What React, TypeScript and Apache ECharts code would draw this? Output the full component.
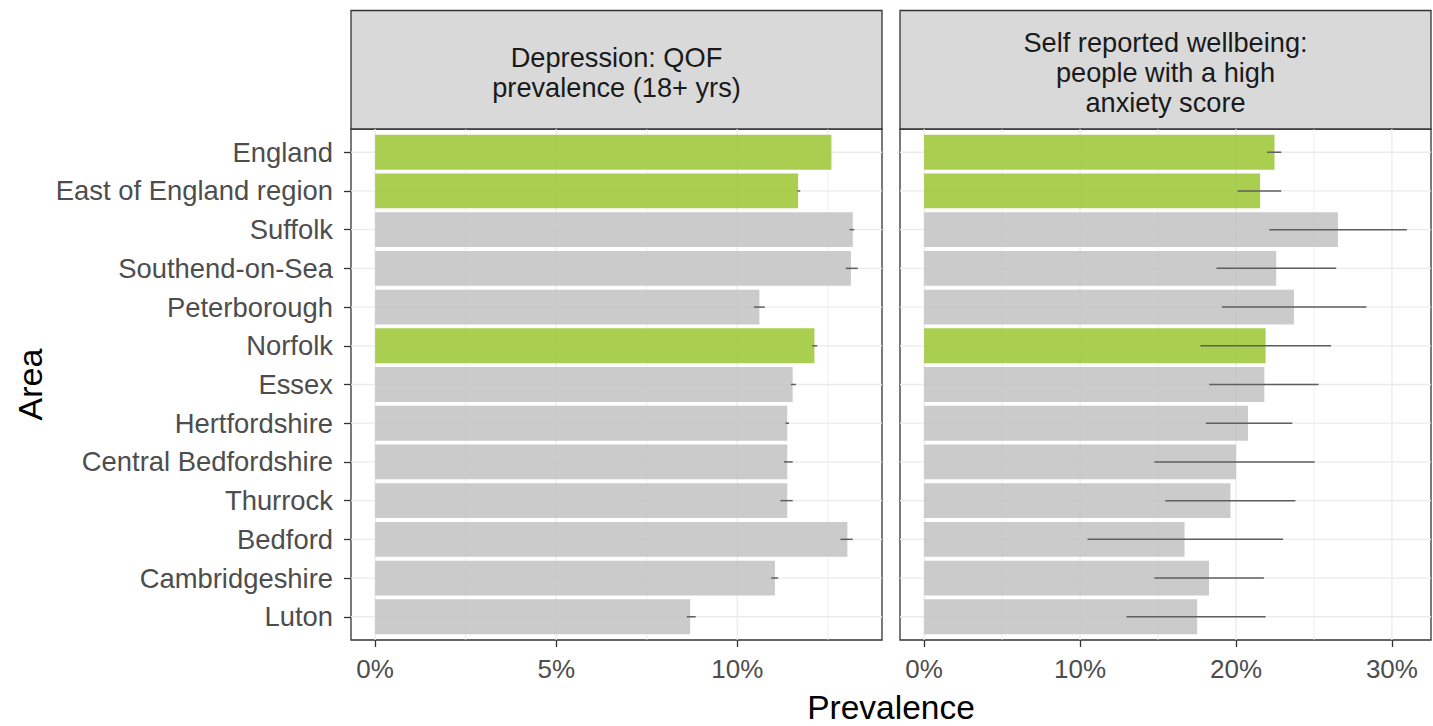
import { useEffect, useRef } from 'react';
import * as echarts from 'echarts';

// Areas, top to bottom
const areas = [
  'England',
  'East of England region',
  'Suffolk',
  'Southend-on-Sea',
  'Peterborough',
  'Norfolk',
  'Essex',
  'Hertfordshire',
  'Central Bedfordshire',
  'Thurrock',
  'Bedford',
  'Cambridgeshire',
  'Luton',
];
const highlighted = ['England', 'East of England region', 'Norfolk'];

// Depression: QOF prevalence (18+ yrs), %
const depressionValue = [12.6, 11.68, 13.19, 13.14, 10.61, 12.13, 11.53, 11.38, 11.38, 11.38, 13.04, 11.04, 8.7];
const depressionLower = [12.6, 11.66, 13.1, 13.0, 10.46, 12.07, 11.48, 11.33, 11.29, 11.19, 12.85, 10.94, 8.61];
const depressionUpper = [12.6, 11.74, 13.23, 13.33, 10.76, 12.21, 11.62, 11.43, 11.53, 11.53, 13.19, 11.13, 8.85];

// Self reported wellbeing: people with a high anxiety score, %
const anxietyValue = [22.47, 21.55, 26.54, 22.58, 23.72, 21.9, 21.82, 20.77, 20.0, 19.65, 16.7, 18.27, 17.51];
const anxietyLower = [22.0, 20.1, 22.14, 18.75, 19.1, 17.72, 18.29, 18.07, 14.77, 15.47, 10.48, 14.77, 12.98];
const anxietyUpper = [22.9, 22.9, 30.96, 26.43, 28.36, 26.1, 25.3, 23.61, 25.05, 23.81, 23.02, 21.79, 21.9];

// Tick values
const depressionTicks = [0, 5, 10];
const depressionMinorTicks = [2.5, 7.5, 12.5];
const anxietyTicks = [0, 10, 20, 30];
const anxietyMinorTicks = [5, 15, 25];

const panelTitles = ['Depression: QOF\nprevalence (18+ yrs)', 'Self reported wellbeing:\npeople with a high\nanxiety score'];

const FONT = "'Liberation Sans', Arial, Helvetica, sans-serif";
const GREEN = '#9AC631';
const GREY = '#C2C2C2';
const GRID_COLOR = '#EBEBEB';
const BORDER = '#333333';

const PANEL_TOP = 129;
const PANEL_HEIGHT = 511;
const PANEL_WIDTH = 531;
const PANEL_LEFT = [351, 900];
const STRIP_TOP = 10.5;

export default function App() {
  const ref = useRef<HTMLDivElement>(null);

  useEffect(() => {
    if (!ref.current) return;
    const chart = echarts.init(ref.current, undefined, { renderer: 'svg' });

    const panels = [
      { value: depressionValue, lower: depressionLower, upper: depressionUpper, ticks: depressionTicks, minor: depressionMinorTicks },
      { value: anxietyValue, lower: anxietyLower, upper: anxietyUpper, ticks: anxietyTicks, minor: anxietyMinorTicks },
    ];

    const grids = panels.map((_, k) => ({
      left: PANEL_LEFT[k],
      top: PANEL_TOP,
      width: PANEL_WIDTH,
      height: PANEL_HEIGHT,
      show: true,
      backgroundColor: '#ffffff',
      borderColor: BORDER,
      borderWidth: 1.3,
      containLabel: false,
    }));

    const xAxes = panels.map((p, k) => {
      const top = Math.max(...p.upper, ...p.value);
      return {
        type: 'value',
        gridIndex: k,
        position: 'bottom',
        min: -0.05 * top,
        max: 1.05 * top,
        axisLine: { show: false, onZero: false },
        splitLine: { show: false },
        axisTick: { show: true, customValues: p.ticks, length: 7, lineStyle: { color: BORDER, width: 1.3 } },
        axisLabel: {
          customValues: p.ticks,
          formatter: (v: number) => `${v}%`,
          fontSize: 26,
          fontFamily: FONT,
          color: '#4D4D4D',
          margin: 16,
        },
      };
    });

    const rowIdx = areas.map((_, i) => i);
    const yAxes = panels.map((_, k) => ({
      type: 'value',
      gridIndex: k,
      position: 'left',
      min: -0.6,
      max: areas.length - 1 + 0.6,
      inverse: true,
      axisLine: { show: false, onZero: false },
      splitLine: { show: false },
      axisTick: { show: k === 0, customValues: rowIdx, length: 7, lineStyle: { color: BORDER, width: 1.3 } },
      axisLabel: {
        show: k === 0,
        customValues: rowIdx,
        formatter: (v: number) => areas[Math.round(v)] ?? '',
        fontSize: 27.4,
        fontFamily: FONT,
        color: '#4D4D4D',
        margin: 18,
      },
    }));

    const series: any[] = [];
    panels.forEach((p, k) => {
      // vertical grid lines (minor then major)
      series.push({
        type: 'custom',
        xAxisIndex: k,
        yAxisIndex: k,
        silent: true,
        z: 1,
        data: [...p.minor.map((v) => [v, 0, 0]), ...p.ticks.map((v) => [v, 0, 1])],
        renderItem: (params: any, api: any) => {
          const cs = params.coordSys;
          const x = api.coord([api.value(0), 0])[0];
          const major = api.value(2) === 1;
          return {
            type: 'line',
            shape: { x1: x, y1: cs.y, x2: x, y2: cs.y + cs.height },
            style: { stroke: GRID_COLOR, lineWidth: major ? 1.3 : 0.8 },
          };
        },
      });
      // horizontal grid lines at each area
      series.push({
        type: 'custom',
        xAxisIndex: k,
        yAxisIndex: k,
        silent: true,
        z: 1,
        data: rowIdx.map((i) => [0, i]),
        renderItem: (params: any, api: any) => {
          const cs = params.coordSys;
          const y = api.coord([0, api.value(1)])[1];
          return {
            type: 'line',
            shape: { x1: cs.x, y1: y, x2: cs.x + cs.width, y2: y },
            style: { stroke: GRID_COLOR, lineWidth: 1.3 },
          };
        },
      });
      // bars
      series.push({
        type: 'custom',
        xAxisIndex: k,
        yAxisIndex: k,
        z: 2,
        data: areas.map((a, i) => [p.value[i], i, highlighted.includes(a) ? 1 : 0]),
        encode: { x: 0, y: 1 },
        renderItem: (_params: any, api: any) => {
          const v = api.value(0);
          const i = api.value(1);
          const p0 = api.coord([0, i]);
          const p1 = api.coord([v, i]);
          const h = Math.abs(api.size([0, 0.9])[1]);
          return {
            type: 'rect',
            shape: { x: p0[0], y: p0[1] - h / 2, width: p1[0] - p0[0], height: h },
            style: { fill: api.value(2) === 1 ? GREEN : GREY, opacity: 0.85 },
          };
        },
      });
      // confidence intervals
      series.push({
        type: 'custom',
        xAxisIndex: k,
        yAxisIndex: k,
        z: 3,
        data: areas.map((_, i) => [p.lower[i], p.upper[i], i]),
        encode: { x: [0, 1], y: 2 },
        renderItem: (_params: any, api: any) => {
          const i = api.value(2);
          const a = api.coord([api.value(0), i]);
          const b = api.coord([api.value(1), i]);
          return {
            type: 'line',
            shape: { x1: a[0], y1: a[1], x2: b[0], y2: b[1] },
            style: { stroke: '#5E5E5E', lineWidth: 1.5 },
          };
        },
      });
    });

    const graphics: any[] = [];
    panelTitles.forEach((t, k) => {
      graphics.push({
        type: 'rect',
        shape: { x: PANEL_LEFT[k], y: STRIP_TOP, width: PANEL_WIDTH, height: PANEL_TOP - STRIP_TOP },
        style: { fill: '#D9D9D9', stroke: BORDER, lineWidth: 1.3 },
        silent: true,
      });
      graphics.push({
        type: 'text',
        x: PANEL_LEFT[k] + PANEL_WIDTH / 2,
        y: (STRIP_TOP + PANEL_TOP) / 2 + 3,
        style: {
          text: t,
          fontSize: 27.2,
          fontFamily: FONT,
          fill: '#1A1A1A',
          align: 'center',
          verticalAlign: 'middle',
          lineHeight: 30,
        },
        silent: true,
      });
    });
    graphics.push({
      type: 'text',
      x: 30,
      y: PANEL_TOP + PANEL_HEIGHT / 2,
      rotation: Math.PI / 2,
      style: { text: 'Area', fontSize: 34, fontFamily: FONT, fill: '#000000', align: 'center', verticalAlign: 'middle' },
      silent: true,
    });
    graphics.push({
      type: 'text',
      x: (PANEL_LEFT[0] + PANEL_LEFT[1] + PANEL_WIDTH) / 2,
      y: 707,
      style: { text: 'Prevalence', fontSize: 33.5, fontFamily: FONT, fill: '#000000', align: 'center', verticalAlign: 'middle' },
      silent: true,
    });

    chart.setOption({
      animation: false,
      backgroundColor: '#ffffff',
      textStyle: { fontFamily: FONT },
      grid: grids,
      xAxis: xAxes,
      yAxis: yAxes,
      series,
      graphic: graphics,
    });

    return () => chart.dispose();
  }, []);

  return <div ref={ref} style={{ position: 'fixed', left: 0, top: 0, width: 1433, height: 726 }} />;
}
